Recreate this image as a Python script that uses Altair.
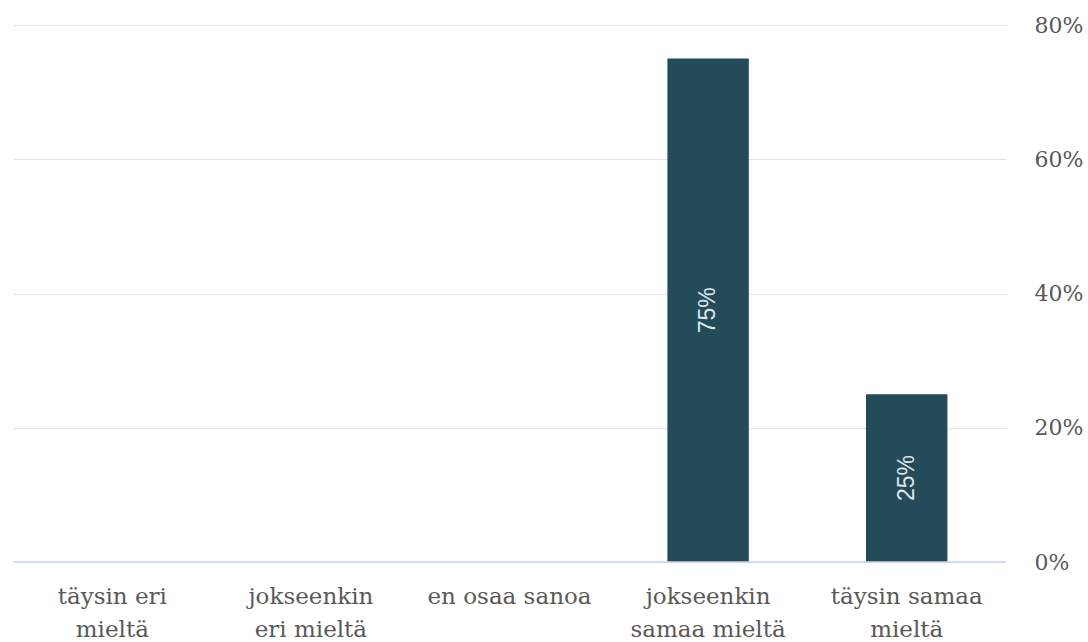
import altair as alt
import pandas as pd

categories = ["täysin eri|mieltä", "jokseenkin|eri mieltä", "en osaa sanoa",
              "jokseenkin|samaa mieltä", "täysin samaa|mieltä"]
values = [0.0, 0.0, 0.0, 0.75, 0.25]
y_ticks = [0, 0.2, 0.4, 0.6, 0.8]

SERIF = "DejaVu Serif"

df = pd.DataFrame({"cat": categories, "value": values})

x = alt.X("cat:N", sort=categories, title=None,
          scale=alt.Scale(paddingInner=0.59, paddingOuter=0.295),
          axis=alt.Axis(labelAngle=0, labelExpr="split(datum.label, '|')",
                        labelFont=SERIF, labelFontSize=23,
                        labelColor="#595959", labelLineHeight=33,
                        labelPadding=23, ticks=False, domain=False, grid=False))

y = alt.Y("value:Q", title=None,
          scale=alt.Scale(domain=[0, 0.8], nice=False),
          axis=alt.Axis(orient="right", values=y_ticks, format=".0%",
                        labelFont=SERIF, labelFontSize=22,
                        labelColor="#595959", labelPadding=28,
                        ticks=False, domain=False, grid=True,
                        gridColor="#e3e3e3", gridWidth=1))

bars = alt.Chart(df).mark_bar(color="#244b5a").encode(x=x, y=y)

base_rule = alt.Chart(pd.DataFrame({"v": [0]})).mark_rule(
    color="#c9d5ea", strokeWidth=1.5).encode(y=alt.Y("v:Q"))

labels = alt.Chart(df).transform_filter("datum.value > 0").transform_calculate(
    mid="datum.value / 2").mark_text(
    angle=270, color="#dfe6e8", font="Liberation Sans", fontSize=23,
    align="center", baseline="middle").encode(
    x=alt.X("cat:N", sort=categories),
    y=alt.Y("mid:Q"),
    text=alt.Text("value:Q", format=".0%"))

chart = alt.layer(bars, base_rule, labels).properties(
    width=993, height=537, background="white",
    padding={"left": 12, "top": 14, "right": 0, "bottom": 0},
).configure_view(strokeWidth=0, stroke="transparent")

chart.save("out.html", embed_options={"renderer": "svg", "actions": False})
